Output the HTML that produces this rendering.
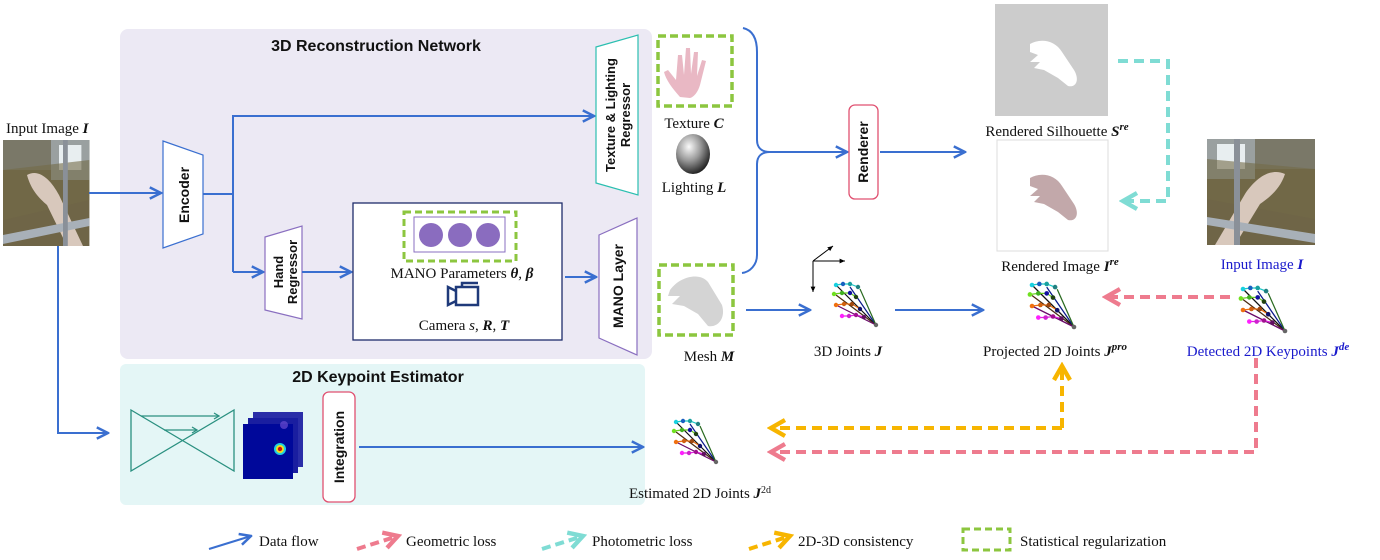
<!DOCTYPE html>
<html><head><meta charset="utf-8"><style>
html,body{margin:0;padding:0;background:#fff}
svg{display:block}
.ser{font-family:"Liberation Serif",serif;font-size:15px;fill:#111}
.sb{font-family:"Liberation Sans",sans-serif;font-weight:bold;fill:#111}
</style></head><body>
<svg width="1380" height="560" viewBox="0 0 1380 560" xmlns="http://www.w3.org/2000/svg">
<defs>
<marker id="ab" viewBox="0 0 10 10" refX="9" refY="5" markerWidth="7" markerHeight="7" orient="auto"><path d="M1,1 L9,5 L1,9" fill="none" stroke="#3a6fd0" stroke-width="1.8"/></marker>
<marker id="ap" viewBox="0 0 10 10" refX="8" refY="5" markerWidth="5" markerHeight="5" orient="auto"><path d="M1,1 L8,5 L1,9" fill="none" stroke="#ee7b8e" stroke-width="2.2"/></marker>
<marker id="ac" viewBox="0 0 10 10" refX="8" refY="5" markerWidth="5" markerHeight="5" orient="auto"><path d="M1,1 L8,5 L1,9" fill="none" stroke="#7fdcd4" stroke-width="2.2"/></marker>
<marker id="ay" viewBox="0 0 10 10" refX="8" refY="5" markerWidth="5" markerHeight="5" orient="auto"><path d="M1,1 L8,5 L1,9" fill="none" stroke="#f7b500" stroke-width="2.2"/></marker>
<marker id="ak" viewBox="0 0 10 10" refX="9" refY="5" markerWidth="6" markerHeight="6" orient="auto"><path d="M0,1 L9,5 L0,9z" fill="#000"/></marker>
<g id="skel">
<g stroke-width="1.2" fill="none">
<line x1="0" y1="0" x2="40" y2="40" stroke="#111"/>
<line x1="14" y1="2" x2="40" y2="40" stroke="#0a1a8a"/>
<line x1="24" y1="4" x2="40" y2="40" stroke="#2a6a20"/>
<line x1="0" y1="10" x2="40" y2="40" stroke="#4a2a10"/>
<line x1="0" y1="20" x2="40" y2="40" stroke="#6a0a6a"/>
<polyline points="0,0 7,-1 14,-1 22,2" stroke="#18c8c8"/>
<polyline points="-2,9 6,8 14,8 20,12" stroke="#6ad020"/>
<polyline points="0,20 8,19 16,19 24,24" stroke="#f07010"/>
<polyline points="6,31 13,31 20,30 28,32" stroke="#e020e0"/>
</g>
<g>
<circle cx="0" cy="0" r="2.2" fill="#18d0e0"/><circle cx="7" cy="-1" r="2.2" fill="#1860c0"/><circle cx="14" cy="-1" r="2.2" fill="#18a0a0"/><circle cx="22" cy="2" r="2.2" fill="#208080"/>
<circle cx="-2" cy="9" r="2.2" fill="#70e020"/><circle cx="6" cy="8" r="2.2" fill="#40b020"/><circle cx="14" cy="8" r="2.2" fill="#1010a0"/><circle cx="20" cy="12" r="2.2" fill="#204010"/>
<circle cx="0" cy="20" r="2.2" fill="#f07010"/><circle cx="8" cy="19" r="2.2" fill="#d06010"/><circle cx="16" cy="19" r="2.2" fill="#a04810"/><circle cx="24" cy="24" r="2.2" fill="#10106a"/>
<circle cx="6" cy="31" r="2.2" fill="#ff20ff"/><circle cx="13" cy="31" r="2.2" fill="#d020d0"/><circle cx="20" cy="30" r="2.2" fill="#a01090"/><circle cx="28" cy="32" r="2.2" fill="#601060"/>
<circle cx="40" cy="40" r="2.2" fill="#666"/>
</g>
</g>
<g id="photo">
<rect x="0" y="0" width="108" height="106" fill="#6f6547"/>
<rect x="0" y="0" width="108" height="30" fill="#7a7868"/>
<rect x="60" y="0" width="48" height="40" fill="#9aa0a0"/>
<rect x="70" y="5" width="28" height="25" fill="#e8eef0"/>
<path d="M0,30 L108,20 L108,60 L0,80z" fill="#736a48" opacity="0.6"/>
<path d="M30,35 C45,28 60,40 70,55 L100,106 L80,106 L55,65 C45,58 35,50 30,35z" fill="#d8c8bc"/>
<path d="M0,95 L108,78 L108,86 L0,104z" fill="#a8b0b8"/>
<rect x="75" y="0" width="6" height="106" fill="#8a9098"/>
</g>
</defs>

<rect x="120" y="29" width="532" height="330" rx="8" fill="#ece9f4"/>
<rect x="120" y="364" width="525" height="141" rx="6" fill="#e4f6f6"/>
<text x="376" y="51" class="sb" font-size="16" text-anchor="middle">3D Reconstruction Network</text>
<text x="378" y="382" class="sb" font-size="16" text-anchor="middle">2D Keypoint Estimator</text>

<text x="6" y="133" class="ser">Input Image <tspan font-weight="bold" font-style="italic">I</tspan></text>
<g transform="translate(3,140) scale(0.8,1)"><use href="#photo"/></g>

<path d="M163,141 L203,155 L203,234 L163,248z" fill="#fff" stroke="#3a6fd0" stroke-width="1.2"/>
<text transform="translate(189,195) rotate(-90)" class="sb" font-size="14" text-anchor="middle">Encoder</text>
<line x1="89" y1="193" x2="161" y2="193" stroke="#3a6fd0" stroke-width="2" marker-end="url(#ab)"/>
<polyline points="203,194 233,194" stroke="#3a6fd0" stroke-width="2" fill="none"/>
<polyline points="233,272 233,116 594,116" stroke="#3a6fd0" stroke-width="2" fill="none" marker-end="url(#ab)"/>
<line x1="233" y1="272" x2="263" y2="272" stroke="#3a6fd0" stroke-width="2" marker-end="url(#ab)"/>

<path d="M596,47 L638,35 L638,195 L596,183z" fill="#fff" stroke="#2bbfb0" stroke-width="1.2"/>
<text transform="translate(615,115) rotate(-90)" class="sb" font-size="13" text-anchor="middle">Texture &amp; Lighting</text>
<text transform="translate(630,115) rotate(-90)" class="sb" font-size="13" text-anchor="middle">Regressor</text>

<path d="M265,237 L302,226 L302,319 L265,310z" fill="#fff" stroke="#8a6fc0" stroke-width="1.2"/>
<text transform="translate(283,272) rotate(-90)" class="sb" font-size="13" text-anchor="middle">Hand</text>
<text transform="translate(297,272) rotate(-90)" class="sb" font-size="13" text-anchor="middle">Regressor</text>
<line x1="302" y1="272" x2="351" y2="272" stroke="#3a6fd0" stroke-width="2" marker-end="url(#ab)"/>

<rect x="353" y="203" width="209" height="137" fill="#fff" stroke="#1f2d6b" stroke-width="1.3"/>
<rect x="404" y="212" width="112" height="49" fill="none" stroke="#8cc63f" stroke-width="3" stroke-dasharray="7,4"/>
<rect x="414" y="217" width="91" height="35" fill="#fff" stroke="#8a6fc0" stroke-width="1"/>
<ellipse cx="431" cy="235" rx="12" ry="12" fill="#8a6cbf"/>
<ellipse cx="460" cy="235" rx="12" ry="12" fill="#8a6cbf"/>
<ellipse cx="488" cy="235" rx="12" ry="12" fill="#8a6cbf"/>
<text x="462" y="278" class="ser" font-size="15" text-anchor="middle">MANO Parameters <tspan font-style="italic" font-weight="bold">θ</tspan>, <tspan font-style="italic" font-weight="bold">β</tspan></text>
<g fill="none" stroke="#1f3a7a" stroke-width="2.5">
<rect x="456" y="287" width="22" height="18"/>
<path d="M456,291 L448,287 L448,305 L456,301"/>
<path d="M462,287 L462,283 L478,283"/>
</g>
<text x="464" y="330" class="ser" font-size="15" text-anchor="middle">Camera <tspan font-style="italic">s</tspan>, <tspan font-style="italic" font-weight="bold">R</tspan>, <tspan font-style="italic" font-weight="bold">T</tspan></text>
<line x1="565" y1="277" x2="596" y2="277" stroke="#3a6fd0" stroke-width="2" marker-end="url(#ab)"/>

<path d="M599,235 L637,218 L637,355 L599,338z" fill="#fff" stroke="#8a6fc0" stroke-width="1.2"/>
<text transform="translate(623,286) rotate(-90)" class="sb" font-size="14" text-anchor="middle">MANO Layer</text>

<polyline points="58,246 58,433 108,433" stroke="#3a6fd0" stroke-width="2" fill="none" marker-end="url(#ab)"/>
<g stroke="#2a9080" stroke-width="1.3" fill="none">
<path d="M131,410 L234,471 L234,410 L131,471z"/>
<line x1="141" y1="416" x2="218" y2="416"/><path d="M214,413 L219,416 L214,419"/>
<line x1="164" y1="430" x2="196" y2="430"/><path d="M192,427 L197,430 L192,433"/>
</g>
<rect x="253" y="412" width="50" height="55" fill="#2a2ea8"/>
<rect x="248" y="418" width="50" height="55" fill="#1a1ea0"/>
<rect x="243" y="424" width="50" height="55" fill="#00089a"/>
<circle cx="284" cy="425" r="4" fill="#6a4ad0" opacity="0.7"/>
<circle cx="280" cy="449" r="6" fill="#20d0e0"/><circle cx="280" cy="449" r="4" fill="#f0e020"/><circle cx="280" cy="449" r="2.2" fill="#d01010"/>
<rect x="323" y="392" width="32" height="110" rx="6" fill="#fff" stroke="#e05070" stroke-width="1.3"/>
<text transform="translate(344,447) rotate(-90)" class="sb" font-size="14" text-anchor="middle">Integration</text>
<line x1="359" y1="447" x2="643" y2="447" stroke="#3a6fd0" stroke-width="2" marker-end="url(#ab)"/>

<rect x="658" y="36" width="74" height="70" fill="none" stroke="#8cc63f" stroke-width="3.5" stroke-dasharray="8,4"/>
<path d="M680,97 C672,88 666,80 664,72 L668,70 L676,80 L678,55 L682,55 L684,75 L686,48 L690,48 L691,74 L694,52 L698,52 L697,76 L702,60 L706,61 L700,85 C698,92 694,97 690,98z" fill="#e9b8c4"/>
<text x="694" y="128" class="ser" text-anchor="middle">Texture <tspan font-style="italic" font-weight="bold">C</tspan></text>
<radialGradient id="sph" cx="0.38" cy="0.32" r="0.7"><stop offset="0" stop-color="#fafafa"/><stop offset="0.5" stop-color="#999"/><stop offset="1" stop-color="#222"/></radialGradient>
<ellipse cx="693" cy="154" rx="17" ry="20" fill="url(#sph)"/>
<text x="694" y="192" class="ser" text-anchor="middle">Lighting <tspan font-style="italic" font-weight="bold">L</tspan></text>

<rect x="659" y="265" width="74" height="70" fill="none" stroke="#8cc63f" stroke-width="3.5" stroke-dasharray="8,4"/>
<path d="M670,290 C680,276 700,272 708,282 L722,305 C726,318 718,328 708,326 L698,314 L684,306 L672,304 L680,296 L668,296z" fill="#d4d4d4"/>
<text x="709" y="361" class="ser" text-anchor="middle">Mesh <tspan font-style="italic" font-weight="bold">M</tspan></text>

<path d="M743,28 C752,30 757,38 757,52 L757,140 C757,148 762,152 770,152 L847,152" stroke="#3a6fd0" stroke-width="2" fill="none" marker-end="url(#ab)"/>
<path d="M770,152 C762,152 757,156 757,164 L757,255 C757,265 750,272 742,273" stroke="#3a6fd0" stroke-width="2" fill="none"/>

<rect x="849" y="105" width="29" height="94" rx="6" fill="#fff" stroke="#e05070" stroke-width="1.3"/>
<text transform="translate(868,152) rotate(-90)" class="sb" font-size="14" text-anchor="middle">Renderer</text>
<line x1="880" y1="152" x2="965" y2="152" stroke="#3a6fd0" stroke-width="2" marker-end="url(#ab)"/>

<rect x="995" y="4" width="113" height="112" fill="#cccccc"/>
<path d="M1030,44 C1040,38 1055,40 1062,52 L1074,70 C1080,80 1076,88 1068,86 L1058,78 L1044,70 L1034,68 L1040,62 L1030,62 L1038,55 L1030,52z" fill="#fff"/>
<text x="1057" y="136" class="ser" text-anchor="middle">Rendered Silhouette <tspan font-style="italic" font-weight="bold">S<tspan baseline-shift="super" font-size="11">re</tspan></tspan></text>
<rect x="997" y="140" width="111" height="111" fill="#fff" stroke="#ddd"/>
<path d="M1030,178 C1040,172 1055,174 1062,186 L1074,204 C1080,214 1076,222 1068,220 L1058,212 L1044,204 L1034,202 L1040,196 L1030,196 L1038,189 L1030,186z" fill="#c2a8aa"/>
<text x="1060" y="271" class="ser" text-anchor="middle">Rendered Image <tspan font-style="italic" font-weight="bold">I<tspan baseline-shift="super" font-size="11">re</tspan></tspan></text>

<polyline points="1118,61 1168,61 1168,201 1123,201" stroke="#7fdcd4" stroke-width="4" stroke-dasharray="10,6" fill="none" marker-end="url(#ac)"/>

<g transform="translate(1315,139) scale(-1,1)"><use href="#photo"/></g>
<text x="1262" y="269" class="ser" style="fill:#1a1acc" text-anchor="middle">Input Image <tspan font-style="italic" font-weight="bold">I</tspan></text>

<line x1="813" y1="261" x2="813" y2="292" stroke="#000" stroke-width="1" marker-end="url(#ak)"/>
<line x1="813" y1="261" x2="845" y2="261" stroke="#000" stroke-width="1" marker-end="url(#ak)"/>
<line x1="813" y1="261" x2="833" y2="246" stroke="#000" stroke-width="1" marker-end="url(#ak)"/>
<use href="#skel" transform="translate(836,285) scale(1.0)"/>
<line x1="746" y1="310" x2="810" y2="310" stroke="#3a6fd0" stroke-width="2" marker-end="url(#ab)"/>
<text x="848" y="356" class="ser" text-anchor="middle">3D Joints <tspan font-style="italic" font-weight="bold">J</tspan></text>
<line x1="895" y1="310" x2="983" y2="310" stroke="#3a6fd0" stroke-width="2" marker-end="url(#ab)"/>

<use href="#skel" transform="translate(1032,285) scale(1.05)"/>
<text x="1055" y="356" class="ser" text-anchor="middle">Projected 2D Joints <tspan font-style="italic" font-weight="bold">J<tspan baseline-shift="super" font-size="11">pro</tspan></tspan></text>
<line x1="1230" y1="297" x2="1106" y2="297" stroke="#ee7b8e" stroke-width="4" stroke-dasharray="10,6" marker-end="url(#ap)"/>

<use href="#skel" transform="translate(1243,289) scale(1.05)"/>
<text x="1268" y="356" class="ser" style="fill:#1a1acc" text-anchor="middle">Detected 2D Keypoints <tspan font-style="italic" font-weight="bold">J<tspan baseline-shift="super" font-size="11">de</tspan></tspan></text>

<polyline points="1062,428 1062,366" stroke="#f7b500" stroke-width="4" stroke-dasharray="10,6" fill="none" marker-end="url(#ay)"/>
<polyline points="1062,428 771,428" stroke="#f7b500" stroke-width="4" stroke-dasharray="10,6" fill="none" marker-end="url(#ay)"/>
<polyline points="1256,358 1256,452 771,452" stroke="#ee7b8e" stroke-width="4" stroke-dasharray="10,6" fill="none" marker-end="url(#ap)"/>

<use href="#skel" transform="translate(676,422) scale(1.0)"/>
<text x="700" y="498" class="ser" font-size="13.5" text-anchor="middle">Estimated 2D Joints <tspan font-style="italic" font-weight="bold">J<tspan baseline-shift="super" font-size="10" font-style="normal" font-weight="normal">2d</tspan></tspan></text>

<line x1="209" y1="549" x2="251" y2="536" stroke="#3a6fd0" stroke-width="2" marker-end="url(#ab)"/>
<text x="259" y="546" class="ser">Data flow</text>
<line x1="357" y1="549" x2="398" y2="536" stroke="#ee7b8e" stroke-width="4" stroke-dasharray="9,5" marker-end="url(#ap)"/>
<text x="406" y="546" class="ser">Geometric loss</text>
<line x1="542" y1="549" x2="583" y2="536" stroke="#7fdcd4" stroke-width="4" stroke-dasharray="9,5" marker-end="url(#ac)"/>
<text x="592" y="546" class="ser">Photometric loss</text>
<line x1="749" y1="549" x2="790" y2="536" stroke="#f7b500" stroke-width="4" stroke-dasharray="9,5" marker-end="url(#ay)"/>
<text x="798" y="546" class="ser">2D-3D consistency</text>
<rect x="963" y="529" width="47" height="21" fill="none" stroke="#8cc63f" stroke-width="3" stroke-dasharray="7,4"/>
<text x="1020" y="546" class="ser">Statistical regularization</text>
</svg>
</body></html>
